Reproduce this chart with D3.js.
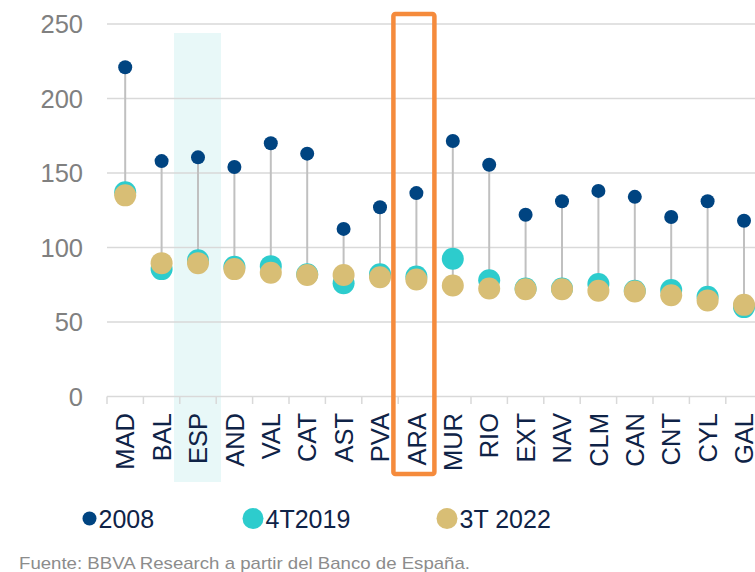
<!DOCTYPE html>
<html>
<head>
<meta charset="utf-8">
<script src="https://cdn.jsdelivr.net/npm/d3@7"></script>
<style>
  body { margin: 0; background: #fff; }
  svg { display: block; font-family: "Liberation Sans", Arial, sans-serif; }
</style>
</head>
<body>
<div class="svg-container"></div>
<script>
var regions = ['MAD','BAL','ESP','AND','VAL','CAT','AST','PVA','ARA','MUR','RIO','EXT','NAV','CLM','CAN','CNT','CYL','GAL'];
var v2008   = [221,158,160.5,154,170,163,112.5,127,136.5,171.5,155.5,122,131,138,134,120.5,131,118];
var v2019   = [137,85.5,91.5,87,87.5,82,76,82,80.5,92.5,78,72.5,72.5,75.5,71,71.5,67,60];
var v2022   = [135,89.5,89.5,85.5,83,81.5,81.5,80,78.5,74.5,72.5,72,72,71,70.5,68,64.5,61.5];
var yTicks  = [0,50,100,150,200,250];
var legendItems = [
  {label: '2008', color: '#004481', r: 7},
  {label: '4T2019', color: '#2dcccd', r: 10.5},
  {label: '3T 2022', color: '#d8be75', r: 10.5}
];
var highlight = 'ESP', boxed = 'ARA';

var svg = d3.select('.svg-container').append('svg')
  .attr('width', 755)
  .attr('height', 572);

var x = d3.scaleBand().domain(regions).range([107, 107 + 18 * 36.4]).padding(0);
var y = d3.scaleLinear().domain([0, 250]).range([396.5, 24]);
var cx = function(d) { return x(d) + x.bandwidth() / 2; };

// ESP background band
svg.append('rect')
  .attr('x', cx(highlight) - 24)
  .attr('y', 33)
  .attr('width', 47)
  .attr('height', 449)
  .attr('fill', '#e8f8f8');

// gridlines + y labels
svg.selectAll('.grid')
  .data(yTicks.filter(function(t) { return t > 0; }))
  .enter().append('line')
  .attr('x1', 107).attr('x2', 755)
  .attr('y1', function(d) { return y(d); })
  .attr('y2', function(d) { return y(d); })
  .attr('stroke', '#d9d9d9')
  .attr('stroke-width', 1.5);

svg.selectAll('.ylab')
  .data(yTicks)
  .enter().append('text')
  .attr('x', 83)
  .attr('y', function(d) { return y(d); })
  .attr('dy', '0.36em')
  .attr('text-anchor', 'end')
  .attr('font-size', 25.5)
  .attr('fill', '#808080')
  .text(function(d) { return d; });

// x axis line and ticks at band edges
svg.append('line')
  .attr('x1', 107).attr('x2', 755)
  .attr('y1', y(0)).attr('y2', y(0))
  .attr('stroke', '#d9d9d9').attr('stroke-width', 1.5);

svg.selectAll('.xtick')
  .data(regions)
  .enter().append('line')
  .attr('x1', function(d) { return x(d); })
  .attr('x2', function(d) { return x(d); })
  .attr('y1', y(0)).attr('y2', y(0) + 7.5)
  .attr('stroke', '#d9d9d9').attr('stroke-width', 1.5);

svg.selectAll('.xlab')
  .data(regions)
  .enter().append('text')
  .attr('transform', function(d) { return 'translate(' + cx(d) + ',413) rotate(-90)'; })
  .attr('dy', '0.36em')
  .attr('text-anchor', 'end')
  .attr('font-size', 25.5)
  .attr('fill', '#0f2347')
  .text(function(d) { return d; });

// stems
svg.selectAll('.stem')
  .data(regions)
  .enter().append('line')
  .attr('x1', cx).attr('x2', cx)
  .attr('y1', function(d, i) { return y(v2008[i]); })
  .attr('y2', function(d, i) { return y(Math.min(v2019[i], v2022[i])); })
  .attr('stroke', '#c0c0c0')
  .attr('stroke-width', 2);

function dots(values, color, r) {
  svg.append('g').selectAll('circle')
    .data(regions)
    .enter().append('circle')
    .attr('cx', cx)
    .attr('cy', function(d, i) { return y(values[i]); })
    .attr('r', r)
    .attr('fill', color);
}
dots(v2008, legendItems[0].color, 7);
dots(v2019, legendItems[1].color, 11);
dots(v2022, legendItems[2].color, 11);

// ARA box
svg.append('rect')
  .attr('x', cx(boxed) - 23)
  .attr('y', 14)
  .attr('width', 41)
  .attr('height', 460)
  .attr('rx', 2)
  .attr('fill', 'none')
  .attr('stroke', '#f58b3c')
  .attr('stroke-width', 4.5);

// legend
var legendX = [89.5, 253, 447];
var lg = svg.selectAll('.legend')
  .data(legendItems)
  .enter().append('g')
  .attr('transform', function(d, i) { return 'translate(' + legendX[i] + ',518.5)'; });
lg.append('circle')
  .attr('r', function(d) { return d.r; })
  .attr('fill', function(d) { return d.color; });
lg.append('text')
  .attr('x', function(d) { return d.r + 2; })
  .attr('dy', '0.36em')
  .attr('font-size', 25)
  .attr('fill', '#0f2347')
  .text(function(d) { return d.label; });

svg.append('text')
  .attr('x', 19)
  .attr('y', 569)
  .attr('font-size', 17)
  .attr('textLength', 451)
  .attr('lengthAdjust', 'spacingAndGlyphs')
  .attr('fill', '#8c8c8c')
  .text('Fuente: BBVA Research a partir del Banco de España.');
</script>
</body>
</html>
